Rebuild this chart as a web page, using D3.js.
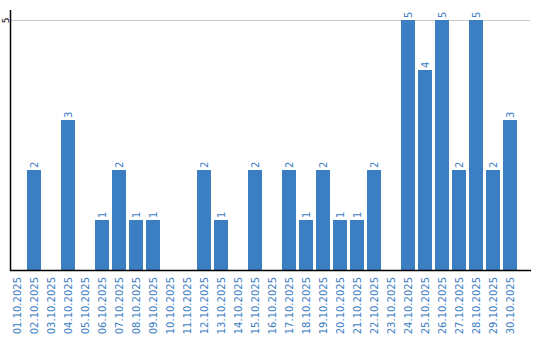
<!DOCTYPE html>
<html>
<head>
<meta charset="utf-8">
<script src="https://cdn.jsdelivr.net/npm/d3@7"></script>
<style>
  body { margin: 0; background: #fff; }
  text { font-family: "DejaVu Sans", sans-serif; }
</style>
</head>
<body>
<div id="chart"></div>
<script>
var days = ["01.10.2025","02.10.2025","03.10.2025","04.10.2025","05.10.2025","06.10.2025",
  "07.10.2025","08.10.2025","09.10.2025","10.10.2025","11.10.2025","12.10.2025",
  "13.10.2025","14.10.2025","15.10.2025","16.10.2025","17.10.2025","18.10.2025",
  "19.10.2025","20.10.2025","21.10.2025","22.10.2025","23.10.2025","24.10.2025",
  "25.10.2025","26.10.2025","27.10.2025","28.10.2025","29.10.2025","30.10.2025"];
var counts = [0,2,0,3,0,1,2,1,1,0,0,2,1,0,2,0,2,1,2,1,1,2,0,5,4,5,2,5,2,3];
var yTicks = [5];

var width = 540, height = 340;
var blue = "#3b7ec2";

var svg = d3.select("#chart")
  .append("svg")
  .attr("width", width)
  .attr("height", height);

var x = d3.scaleBand()
  .domain(days)
  .range([8.5, 518.5])
  .paddingInner(3/17)
  .paddingOuter(1.5/17);

var y = d3.scaleLinear()
  .domain([0, 5.2])
  .range([270, 10]);

// grid line
svg.selectAll(".grid")
  .data(yTicks)
  .enter()
  .append("line")
  .attr("class", "grid")
  .attr("x1", 11)
  .attr("x2", 530)
  .attr("y1", d => y(d) + 0.5)
  .attr("y2", d => y(d) + 0.5)
  .attr("stroke", "#c8c8c8")
  .attr("stroke-width", 1);

// y tick labels
svg.selectAll(".ytick")
  .data(yTicks)
  .enter()
  .append("text")
  .attr("class", "ytick")
  .attr("transform", d => "translate(6," + (y(d) + 0.5) + ") rotate(-90)")
  .attr("text-anchor", "middle")
  .attr("dominant-baseline", "central")
  .style("font-size", "9px")
  .attr("fill", "#000")
  .text(d => d);

// bars
var nonZero = days.map((d, i) => ({day: d, v: counts[i]})).filter(d => d.v > 0);

svg.selectAll(".bar")
  .data(nonZero)
  .enter()
  .append("rect")
  .attr("class", "bar")
  .attr("x", d => x(d.day))
  .attr("width", x.bandwidth())
  .attr("y", d => y(d.v))
  .attr("height", d => y(0) - y(d.v))
  .attr("fill", blue);

svg.selectAll(".val")
  .data(nonZero)
  .enter()
  .append("text")
  .attr("class", "val")
  .attr("transform", d => "translate(" + (x(d.day) + x.bandwidth() / 2) + "," + (y(d.v) - 2) + ") rotate(-90)")
  .attr("text-anchor", "start")
  .attr("dominant-baseline", "central")
  .style("font-size", "10px")
  .attr("fill", blue)
  .text(d => d.v);

// axes
svg.append("line")
  .attr("x1", 10.5).attr("x2", 10.5)
  .attr("y1", 10).attr("y2", 271)
  .attr("stroke", "#000")
  .attr("stroke-width", 1.5);

svg.append("line")
  .attr("x1", 10).attr("x2", 531)
  .attr("y1", 270.5).attr("y2", 270.5)
  .attr("stroke", "#000")
  .attr("stroke-width", 1.5);

// x labels
svg.selectAll(".xlab")
  .data(days)
  .enter()
  .append("text")
  .attr("class", "xlab")
  .attr("transform", d => "translate(" + (x(d) + x.bandwidth() / 2) + ",277) rotate(-90)")
  .attr("text-anchor", "end")
  .attr("dominant-baseline", "central")
  .style("font-size", "10px")
  .attr("fill", blue)
  .text(d => d);
</script>
</body>
</html>
